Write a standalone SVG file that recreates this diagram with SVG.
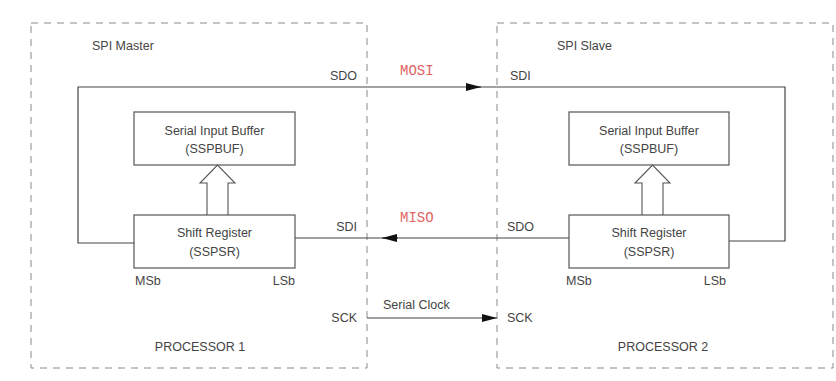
<svg xmlns="http://www.w3.org/2000/svg" width="836" height="381" viewBox="0 0 836 381">
<style>
.dash{fill:none;stroke:#8a8a8a;stroke-width:1;stroke-dasharray:7,6}
.box{fill:#fff;stroke:#555;stroke-width:1.2}
.wire{fill:none;stroke:#444;stroke-width:1.2}
.hollow{fill:#fff;stroke:#555;stroke-width:1.1}
.t{font-family:"Liberation Sans",Arial,sans-serif;font-size:12.5px;fill:#444}
.c{text-anchor:middle}
.r{text-anchor:end}
.red{font-family:"Liberation Mono","Courier New",monospace;font-size:14px;fill:#e06464}
</style>
<defs>
<marker id="ah" markerWidth="16" markerHeight="9" refX="15" refY="4.5" orient="auto" markerUnits="userSpaceOnUse">
<path d="M0,0.5 L15,4.5 L0,8.5 Z" fill="#111"/>
</marker>
</defs>
<rect width="836" height="381" fill="#fff"/>
<g id="processor1">
<rect class="dash" x="31" y="23" width="336" height="345"/>
<text class="t" x="92" y="50">SPI Master</text>
<text class="t c" x="200" y="351">PROCESSOR 1</text>
</g>
<g id="processor2">
<rect class="dash" x="497" y="23" width="336" height="345"/>
<text class="t" x="557" y="50">SPI Slave</text>
<text class="t c" x="663" y="351">PROCESSOR 2</text>
</g>
<g id="connectors">
<polyline class="wire" points="134,243 78,243 78,87 785,87 785,241 729,241"/>
<line class="wire" x1="466" y1="87" x2="481" y2="87" marker-end="url(#ah)"/>
<line class="wire" x1="569" y1="238" x2="295" y2="238"/>
<line class="wire" x1="398" y1="238" x2="382" y2="238" marker-end="url(#ah)"/>
<line class="wire" x1="367" y1="318" x2="497" y2="318" marker-end="url(#ah)"/>
<text class="red" x="400" y="75">MOSI</text>
<text class="red" x="400" y="222">MISO</text>
<text class="t" x="383" y="309">Serial Clock</text>
<text class="t r" x="357" y="80">SDO</text>
<text class="t" x="510" y="80">SDI</text>
<text class="t r" x="357" y="231">SDI</text>
<text class="t" x="507" y="231">SDO</text>
<text class="t r" x="357" y="322">SCK</text>
<text class="t" x="507" y="322">SCK</text>
</g>
<g id="buffer1">
<rect class="box" x="134" y="112" width="161" height="53"/>
<text class="t c" x="214.5" y="135">Serial Input Buffer</text>
<text class="t c" x="214.5" y="153">(SSPBUF)</text>
</g>
<g id="transfer1">
<path class="hollow" d="M207,215 L207,183 L200,183 L217.5,165 L235,183 L228,183 L228,215"/>
</g>
<g id="shift1">
<rect class="box" x="134" y="215" width="161" height="53"/>
<text class="t c" x="214.5" y="237">Shift Register</text>
<text class="t c" x="214.5" y="256">(SSPSR)</text>
<text class="t" x="135" y="285">MSb</text>
<text class="t r" x="295" y="285">LSb</text>
</g>
<g id="buffer2">
<rect class="box" x="569" y="112" width="160" height="53"/>
<text class="t c" x="649" y="135">Serial Input Buffer</text>
<text class="t c" x="649" y="153">(SSPBUF)</text>
</g>
<g id="transfer2">
<path class="hollow" d="M642,215 L642,183 L635,183 L652.5,165 L670,183 L663,183 L663,215"/>
</g>
<g id="shift2">
<rect class="box" x="569" y="215" width="160" height="53"/>
<text class="t c" x="649" y="237">Shift Register</text>
<text class="t c" x="649" y="256">(SSPSR)</text>
<text class="t" x="566" y="285">MSb</text>
<text class="t r" x="726" y="285">LSb</text>
</g>
</svg>
